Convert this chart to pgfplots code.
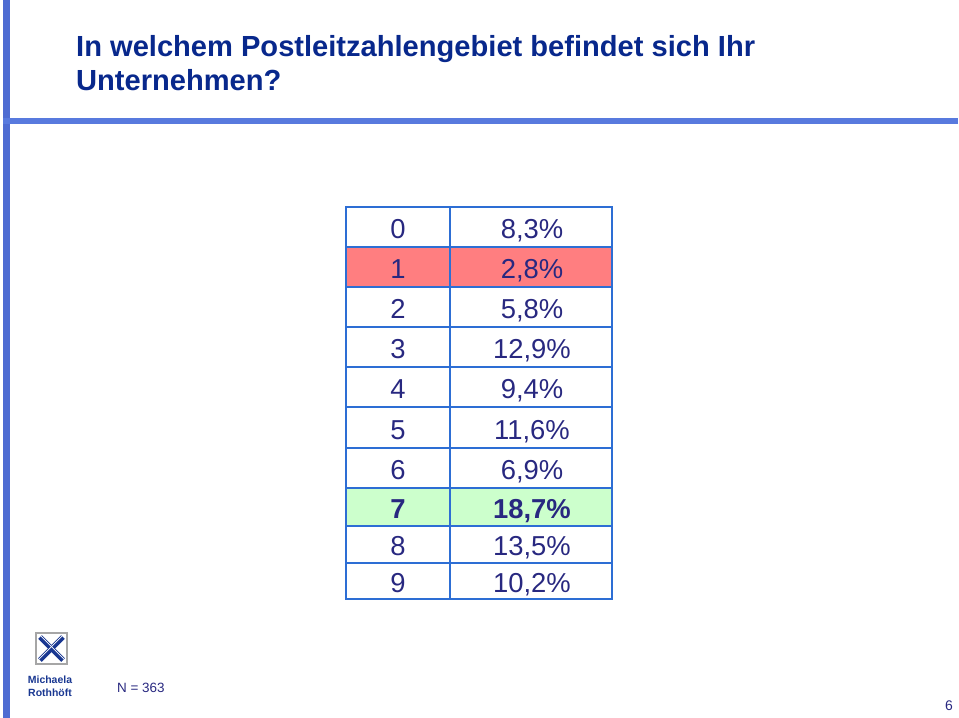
\documentclass[border=0pt]{standalone}
\usepackage{pgfplots}
\pgfplotsset{compat=1.18}
\usepackage{pgfplotstable}
\usepackage{fontspec}
\setmainfont{Liberation Sans}

\definecolor{titleblue}{RGB}{8,40,140}
\definecolor{barblue}{RGB}{78,108,210}
\definecolor{ruleblue}{RGB}{88,122,222}
\definecolor{tborder}{RGB}{45,110,212}
\definecolor{tabtext}{RGB}{40,40,128}
\definecolor{salmon}{RGB}{255,126,128}
\definecolor{lightgreen}{RGB}{204,255,204}
\definecolor{logoblue}{RGB}{25,55,145}

% PLZ region, share, text position (px from top)
\pgfplotstableread{
plz pct y
0 8.3 229
1 2.8 269
2 5.8 309
3 12.9 349
4 9.4 389
5 11.6 430
6 6.9 470
7 18.7 509
8 13.5 546
9 10.2 583
}\plzdata

\begin{document}
\begin{tikzpicture}
\path[use as bounding box] (0,0) rectangle (959bp,718bp);
\begin{axis}[
    at={(0,0)}, anchor=south west,
    scale only axis, width=959bp, height=718bp,
    xmin=0, xmax=959, ymin=0, ymax=718,
    y dir=reverse,
    hide axis, clip=false,
    tablecell/.style={
        nodes near coords align=center,
        every node near coord/.append style={anchor=center, inner sep=0pt,
            text height=19.5bp, text depth=0pt,
            font=\fontsize{27.5}{32}\selectfont, text=tabtext}},
]
% slide frame
\fill[barblue] (axis cs:3,0) rectangle (axis cs:9.5,718);
\draw[ruleblue, line width=6bp] (axis cs:3,121) -- (axis cs:958,121);

% title
\node[anchor=base west, inner sep=0pt, text=titleblue,
      font=\fontsize{29.2}{35}\selectfont\bfseries] at (axis cs:76,56.7)
      {In welchem Postleitzahlengebiet befindet sich Ihr};
\node[anchor=base west, inner sep=0pt, text=titleblue,
      font=\fontsize{29.2}{35}\selectfont\bfseries] at (axis cs:76,90.7)
      {Unternehmen?};

% highlighted rows
\fill[salmon] (axis cs:346,247) rectangle (axis cs:612,287);
\fill[lightgreen] (axis cs:346,488) rectangle (axis cs:612,526);

% grid
\pgfplotsinvokeforeach{247,287,327,367,407,448,488,526,563}{
  \draw[tborder, line width=2bp] (axis cs:346,#1) -- (axis cs:612,#1);
}
\draw[tborder, line width=2bp] (axis cs:450,207) -- (axis cs:450,599);
\draw[tborder, line width=2bp] (axis cs:346,207) rectangle (axis cs:612,599);

% table contents
\addplot[only marks, mark=none, tablecell,
    point meta=explicit symbolic,
    visualization depends on={value \coordindex\as\rowidx},
    nodes near coords={\ifnum\rowidx=7 \bfseries\fi\pgfplotspointmeta}]
    table[x expr=398, y=y, meta=plz] {\plzdata};
\addplot[only marks, mark=none, tablecell,
    point meta=explicit,
    visualization depends on={value \coordindex\as\rowidx},
    nodes near coords={\ifnum\rowidx=7 \bfseries\fi\pgfmathprintnumber[assume math mode=true,fixed,fixed zerofill,precision=1,use comma]{\pgfplotspointmeta}\%}]
    table[x expr=532, y=y, meta=pct] {\plzdata};

% logo
\draw[gray!70, line width=1.6bp] (axis cs:36,633) rectangle (axis cs:67,664);
\draw[logoblue, line width=5bp] (axis cs:40,637) -- (axis cs:63,660);
\draw[logoblue, line width=5bp] (axis cs:63,637) -- (axis cs:40,660);
\draw[white, line width=0.7bp] (axis cs:41,636) -- (axis cs:64,659);
\draw[white, line width=0.7bp] (axis cs:62,636) -- (axis cs:39,659);
\node[anchor=base, inner sep=0pt, text=logoblue, font=\fontsize{10.5}{12}\selectfont\bfseries]
    at (axis cs:50,683) {Michaela};
\node[anchor=base, inner sep=0pt, text=logoblue, font=\fontsize{10.5}{12}\selectfont\bfseries]
    at (axis cs:50,696) {Rothhöft};

% footer
\node[anchor=base west, inner sep=0pt, text=tabtext, font=\fontsize{13.5}{16}\selectfont]
    at (axis cs:117,692) {N = 363};
\node[anchor=base east, inner sep=0pt, text=tabtext, font=\fontsize{14}{16}\selectfont]
    at (axis cs:953,710) {6};
\end{axis}
\end{tikzpicture}
\end{document}
